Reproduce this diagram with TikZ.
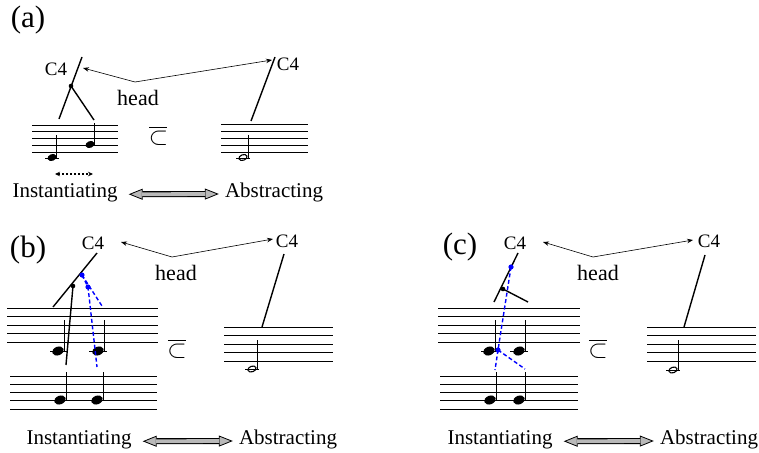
\documentclass[tikz,border=0pt]{standalone}
\usepackage{fontspec}
\setmainfont{Liberation Serif}
\usetikzlibrary{arrows.meta}

\newcommand{\drawstaff}[4]{%
  \foreach \k in {0,...,4} \draw[staffline] (#1,{#3+\k*#4}) -- (#2,{#3+\k*#4});}
\newcommand{\qnote}[5]{%
  \fill[shift={(#1,#2)},rotate=20] (0,0) ellipse ({#3} and {#4});
  \draw[stem] ({#1+#3},#2) -- ({#1+#3},#5);}
\newcommand{\hnote}[3]{%
  \draw[line width=1.1pt,shift={(#1,#2)},rotate=20] (0,0) ellipse (4.2 and 2.8);
  \draw[stem] ({#1+5},#2) -- ({#1+5},#3);}
\newcommand{\ledger}[3]{\draw[staffline] ({#1-#3},#2) -- ({#1+#3},#2);}
\newcommand{\barsubset}{\rlap{\hspace{0.5pt}\rule[15.6pt]{18pt}{1.3pt}}$\subset$}
\newcommand{\swaparrow}[2]{%
  \draw[swapout, shorten <=11pt, shorten >=6pt] ([yshift=-2]#1.east) -- ([yshift=-2]#2.west);
  \draw[swapin, shorten <=24.5pt, shorten >=19.5pt] ([yshift=-2]#1.east) -- ([yshift=-2]#2.west);}

\begin{document}
\begin{tikzpicture}[
  x=1pt, y=-1pt,
  staffline/.style={line width=0.8pt},
  stem/.style={line width=0.8pt},
  branch/.style={line width=1.4pt},
  blueline/.style={blue, line width=1.4pt, dash pattern=on 4pt off 2.5pt},
  pointer/.style={-{Stealth[length=6pt,width=4.5pt]}, line width=0.6pt},
  swapout/.style={line width=6pt,
    {Triangle[length=14pt,width=11pt,line width=0.8pt,fill=gray!55]}-{Triangle[length=14pt,width=11pt,line width=0.8pt,fill=gray!55]}},
  swapin/.style={line width=3.8pt, draw=gray!55},
  lbl/.style={font=\fontsize{21}{24}\selectfont, inner sep=0pt, anchor=base},
  panel/.style={font=\fontsize{31}{34}\selectfont, inner sep=0pt},
  pitch/.style={font=\fontsize{19}{22}\selectfont, inner sep=0pt},
  headlbl/.style={font=\fontsize{22}{25}\selectfont, inner sep=0pt},
  incl/.style={font=\fontsize{26}{28}\selectfont, inner sep=0pt, anchor=base}
]
\useasboundingbox (0,0) rectangle (759,452);

% (a)
\node[panel] (labA) at (28,20) {(a)};
\drawstaff{32}{118}{125}{6.75}
\drawstaff{221}{308}{124.5}{6.9}
\ledger{52}{158}{7}
\qnote{52}{157.5}{4.6}{3.4}{135}
\qnote{90}{144.5}{4.6}{3.4}{123}
\ledger{243}{158}{7}
\hnote{243}{157.5}{135}
\node[incl] (inclA) at (158.5,144) {\barsubset};
\coordinate (topA) at (82,57);
\coordinate (leftA) at (59,119);
\coordinate (rightA) at (94,120);
\fill (71,86) circle (2.3) coordinate (dotA);
\draw[branch] (topA) -- (leftA);
\draw[branch] (dotA) -- (rightA);
\coordinate (topAr) at (275,57);
\coordinate (botAr) at (251,121);
\draw[branch] (topAr) -- (botAr);
\node[pitch] (cfourA) at (56,69) {C4};
\node[pitch] (cfourAr) at (288,64) {C4};
\node[headlbl] (headA) at (138,98) {head};
\coordinate (hA) at (135,82);
\coordinate (tipA) at (83,68);
\coordinate (tipAr) at (272,60);
\draw[pointer] (hA) -- (tipA);
\draw[pointer] (hA) -- (tipAr);
\coordinate (swA) at (55,174);
\coordinate (swAr) at (93,174);
\draw[{Stealth[length=5pt,width=4.5pt]}-{Stealth[length=5pt,width=4.5pt]}, line width=1.2pt, dash pattern=on 2pt off 2pt] (swA) -- (swAr);
\node[lbl] (instA) at (65,197) {Instantiating};
\node[lbl] (abstA) at (274,197) {Abstracting};
\swaparrow{instA}{abstA}

% (b)
\node[panel] (labB) at (28,250) {(b)};
\drawstaff{7}{158}{308}{8.5}
\drawstaff{10}{157}{376}{8.25}
\drawstaff{224}{333}{327}{8.5}
\ledger{59}{351}{9}
\ledger{98}{351}{9}
\qnote{58}{351}{6}{4.3}{320}
\qnote{98}{351}{6}{4.3}{320}
\qnote{60}{400}{6}{4.3}{372}
\qnote{97}{400}{6}{4.3}{372}
\ledger{252}{369}{7}
\hnote{252}{369}{340}
\node[incl] (inclB) at (177,357) {\barsubset};
\coordinate (topB) at (97,253);
\coordinate (leftB) at (53,307);
\coordinate (downB) at (66,365);
\fill (73,286) circle (2.3) coordinate (dotB);
\draw[branch] (topB) -- (leftB);
\draw[branch] (dotB) -- (downB);
\fill[blue] (82,275) circle (2.6) coordinate (bdotB);
\fill[blue] (88,287) circle (2.6) coordinate (bdotBb);
\coordinate (bendB) at (102,306);
\coordinate (bdownB) at (97,367);
\draw[blueline] (bdotB) -- (bendB);
\draw[blueline] (bdotB) -- (bdotBb) -- (bdownB);
\coordinate (topBr) at (284,254);
\coordinate (botBr) at (262,327);
\draw[branch] (topBr) -- (botBr);
\node[pitch] (cfourB) at (93,243) {C4};
\node[pitch] (cfourBr) at (287,241) {C4};
\node[headlbl] (headB) at (176,273) {head};
\coordinate (hB) at (172,257);
\coordinate (tipB) at (121,242);
\coordinate (tipBr) at (273,239);
\draw[pointer] (hB) -- (tipB);
\draw[pointer] (hB) -- (tipBr);
\node[lbl] (instB) at (79,444) {Instantiating};
\node[lbl] (abstB) at (288,444) {Abstracting};
\swaparrow{instB}{abstB}

% (c)
\node[panel] (labC) at (460,247) {(c)};
\drawstaff{438}{580}{308}{8.5}
\drawstaff{440}{578}{376}{8.25}
\drawstaff{647}{756}{327}{8.5}
\ledger{490}{351}{9}
\ledger{519}{351}{9}
\qnote{489}{351}{6}{4.3}{320}
\qnote{519}{351}{6}{4.3}{320}
\qnote{490}{400}{6}{4.3}{372}
\qnote{519}{400}{6}{4.3}{372}
\ledger{673}{370}{7}
\hnote{673}{370}{340}
\node[incl] (inclC) at (598,357) {\barsubset};
\coordinate (topC) at (518,253);
\coordinate (leftC) at (494,302);
\coordinate (rightC) at (528,302);
\fill (503,289) circle (2.3) coordinate (dotC);
\draw[branch] (topC) -- (leftC);
\draw[branch] (dotC) -- (rightC);
\fill[blue] (511,267) circle (2.6) coordinate (bdotC);
\fill[blue] (498,350) circle (2.6) coordinate (bdotCb);
\coordinate (bleftC) at (495,370);
\coordinate (brightC) at (525,369);
\draw[blueline] (bdotC) -- (bdotCb);
\draw[blueline] (bdotCb) -- (bleftC);
\draw[blueline] (bdotCb) -- (brightC);
\coordinate (topCr) at (705,255);
\coordinate (botCr) at (684,327);
\draw[branch] (topCr) -- (botCr);
\node[pitch] (cfourC) at (515,243) {C4};
\node[pitch] (cfourCr) at (709,241) {C4};
\node[headlbl] (headC) at (598,273) {head};
\coordinate (hC) at (593,257);
\coordinate (tipC) at (543,242);
\coordinate (tipCr) at (693,240);
\draw[pointer] (hC) -- (tipC);
\draw[pointer] (hC) -- (tipCr);
\node[lbl] (instC) at (500,444) {Instantiating};
\node[lbl] (abstC) at (709,444) {Abstracting};
\swaparrow{instC}{abstC}
\end{tikzpicture}
\end{document}
